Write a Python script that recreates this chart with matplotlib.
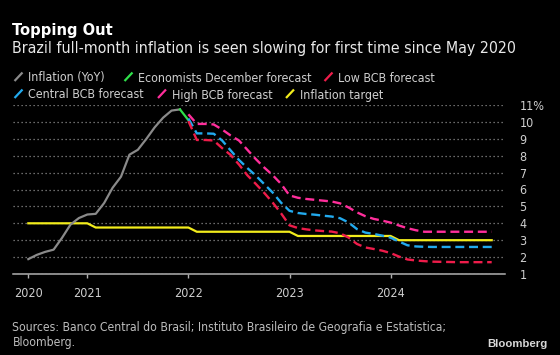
import os
import matplotlib
matplotlib.use("Agg")
import matplotlib.pyplot as plt
import pandas as pd
from matplotlib.lines import Line2D
from matplotlib import font_manager
from matplotlib.font_manager import FontProperties

# IPCA year-on-year, monthly from May 2020
inflation_start = "2020-05"
inflation_yoy = [1.88, 2.13, 2.31, 2.44, 3.14, 3.92, 4.31, 4.52, 4.56, 5.20,
                 6.10, 6.76, 8.06, 8.35, 8.99, 9.68, 10.25, 10.67, 10.74]

economists_start = "2021-11"
economists_dec = [10.74, 10.1]

# BCB forecasts, monthly from Dec 2021 to Dec 2024
forecast_start = "2021-12"
low_bcb = [10.05,
           8.93, 8.93, 8.9, 8.45, 8.05, 7.48, 6.84, 6.33, 5.8, 5.23, 4.59, 3.88,
           3.72, 3.64, 3.58, 3.54, 3.51, 3.41, 3.16, 2.78, 2.57, 2.48, 2.38, 2.24,
           2.03, 1.86, 1.8, 1.76, 1.73, 1.72, 1.71, 1.7, 1.7, 1.7, 1.7, 1.7]
central_bcb = [10.2,
               9.32, 9.32, 9.3, 8.9, 8.32, 7.75, 7.27, 6.82, 6.32, 5.82, 5.22, 4.74,
               4.61, 4.55, 4.51, 4.45, 4.4, 4.3, 4.05, 3.66, 3.45, 3.37, 3.27, 3.15,
               2.92, 2.7, 2.63, 2.61, 2.6, 2.6, 2.6, 2.6, 2.6, 2.6, 2.6, 2.6]
high_bcb = [10.45,
            9.88, 9.88, 9.85, 9.55, 9.2, 8.9, 8.35, 7.8, 7.3, 6.85, 6.33, 5.65,
            5.51, 5.44, 5.39, 5.34, 5.29, 5.18, 4.94, 4.65, 4.42, 4.26, 4.16, 4.04,
            3.87, 3.71, 3.59, 3.5, 3.5, 3.5, 3.5, 3.5, 3.5, 3.5, 3.5, 3.5]

target_years = [2020, 2021, 2022, 2023, 2024]
target_values = [4.0, 3.75, 3.5, 3.25, 3.0]

year_labels = ["2020", "2021", "2022", "2023", "2024"]
y_labels = ["1", "2", "3", "4", "5", "6", "7", "8", "9", "10", "11%"]


def month_x(start, n):
    # month-end positions as decimal years
    periods = pd.period_range(start, periods=n, freq="M")
    return [p.year + p.month / 12 for p in periods]


def font_file(name):
    for f in font_manager.fontManager.ttflist:
        if os.path.basename(f.fname) == name:
            return f.fname
    return None


COND = font_file("DejaVuSansCondensed.ttf")
COND_BOLD = font_file("DejaVuSansCondensed-Bold.ttf")


def fp(size, bold=False):
    path = COND_BOLD if bold else COND
    if path:
        return FontProperties(fname=path, size=size)
    return FontProperties(family="DejaVu Sans", size=size,
                          weight="bold" if bold else "normal")


GRAY = "#8a8a8a"
GREEN = "#2fe04a"
RED = "#ee1c4a"
BLUE = "#22aaee"
MAGENTA = "#ff2e9b"
YELLOW = "#f2ec1c"
TXT = "#cfcfcf"

W, H = 560, 355
fig = plt.figure(figsize=(W / 100, H / 100), dpi=100, facecolor="black")
ax = fig.add_axes([12.5 / W, 1 - 274 / H, (505 - 12.5) / W, (274 - 105) / H])
ax.set_facecolor("black")

target_periods = pd.period_range("2020-05", "2024-12", freq="M")
target_x = [p.year + p.month / 12 for p in target_periods]
target_y = [target_values[target_years.index(p.year)] for p in target_periods]

ax.plot(target_x, target_y, color=YELLOW, lw=1.6, zorder=2)
ax.plot(month_x(inflation_start, len(inflation_yoy)), inflation_yoy,
        color=GRAY, lw=1.6, zorder=3)
ax.plot(month_x(economists_start, len(economists_dec)), economists_dec,
        color=GREEN, lw=1.6, zorder=4)
fx = month_x(forecast_start, len(low_bcb))
for vals, c in [(high_bcb, MAGENTA), (central_bcb, BLUE), (low_bcb, RED)]:
    ax.plot(fx, vals, color=c, lw=1.7, dashes=(3.8, 2.0), zorder=4)

x0 = 2021 + (12.5 - 87.3) / 101.1
x1 = 2021 + (505 - 87.3) / 101.1
ax.set_xlim(x0, x1)
ax.set_ylim(1, 11)

ax.set_xticks([2020 + 5 / 12, 2021, 2022, 2023, 2024])
ax.set_xticklabels(year_labels)
ax.set_yticks(range(1, 12))
ax.set_yticklabels(y_labels)
ax.yaxis.tick_right()

for s in ["top", "left", "right"]:
    ax.spines[s].set_visible(False)
ax.spines["bottom"].set_color("#b0b0b0")
ax.spines["bottom"].set_linewidth(1.1)
ax.spines["bottom"].set_zorder(5)

ax.tick_params(axis="x", colors="#b0b0b0", length=3.2, width=1, pad=6,
               labelcolor=TXT)
ax.tick_params(axis="y", length=0, pad=10.5, labelcolor=TXT)
for lbl in ax.get_xticklabels() + ax.get_yticklabels():
    lbl.set_fontproperties(fp(9))

ax.yaxis.grid(True, color="#8c8c8c", linestyle=(0, (1, 2.2)), lw=0.9)
ax.xaxis.grid(False)
ax.set_axisbelow(True)


def fy(py):
    return 1 - py / H


fig.text(12.5 / W, fy(34.5), "Topping Out", color="white",
         fontproperties=fp(11.8, bold=True), va="baseline")
fig.text(12.5 / W, fy(53.5),
         "Brazil full-month inflation is seen slowing for first time since May 2020",
         color="#e8e8e8", fontproperties=fp(11.45), va="baseline")

legend_items = [
    ("Inflation (YoY)", GRAY, 28.5, 81.5),
    ("Economists December forecast", GREEN, 138.5, 81.5),
    ("Low BCB forecast", RED, 338.5, 81.5),
    ("Central BCB forecast", BLUE, 28.5, 98.5),
    ("High BCB forecast", MAGENTA, 172, 98.5),
    ("Inflation target", YELLOW, 300, 98.5),
]
for label, c, tx, base in legend_items:
    fig.add_artist(Line2D([(tx - 14) / W, (tx - 6) / W], [fy(base - 0.5), fy(base - 9)],
                          color=c, lw=1.6, solid_capstyle="butt"))
    fig.text(tx / W, fy(base), label, color=TXT, fontproperties=fp(8.9),
             va="baseline")

fig.text(12.5 / W, fy(330.5),
         "Sources: Banco Central do Brasil; Instituto Brasileiro de Geografia e Estatistica;",
         color="#bdbdbd", fontproperties=fp(8.7), va="baseline")
fig.text(12.5 / W, fy(346), "Bloomberg.", color="#bdbdbd",
         fontproperties=fp(8.7), va="baseline")
fig.text(547 / W, fy(347), "Bloomberg", color="#d8d8d8",
         family="Liberation Sans", weight="bold", fontsize=8.2,
         ha="right", va="baseline")

fig.savefig("out.png", dpi=100, facecolor="black")
